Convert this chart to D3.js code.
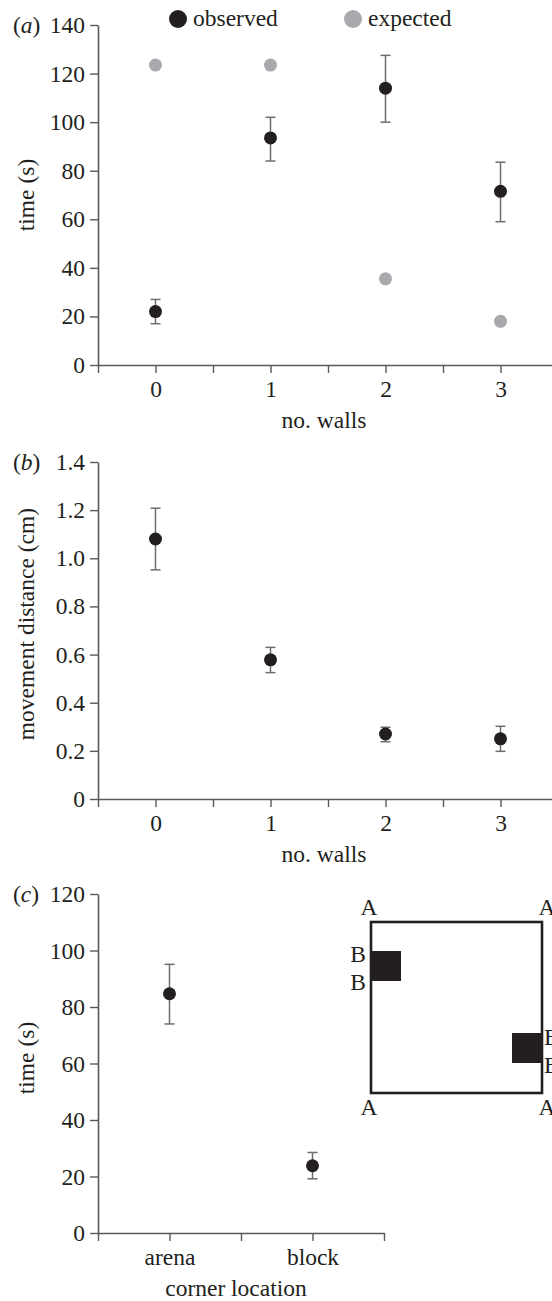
<!DOCTYPE html>
<html>
<head>
<meta charset="utf-8">
<script src="https://cdn.jsdelivr.net/npm/d3@7"></script>
<style>
  body { margin: 0; background: #fff; }
  svg text { font-family: "Liberation Serif", "DejaVu Serif", serif !important; fill: #231f20; }
</style>
</head>
<body>
<svg id="chart" width="552" height="1301" font-family="Liberation Serif"></svg>
<script>
// panel (a): time in corner vs number of walls
const walls = [0, 1, 2, 3];
const timeObserved = [22, 93.5, 114, 71.5];
const timeObsLow = [17, 84, 100, 59];
const timeObsHigh = [27, 102, 127.5, 83.5];
const timeExpected = [123.5, 123.5, 35.5, 18];

// panel (b): movement distance vs number of walls
const distObserved = [1.08, 0.578, 0.27, 0.25];
const distLow = [0.952, 0.525, 0.238, 0.198];
const distHigh = [1.208, 0.63, 0.298, 0.302];

// panel (c): time by corner location
const corners = ["arena", "block"];
const cornerTime = [84.7, 23.8];
const cornerLow = [74, 19.2];
const cornerHigh = [95.1, 28.5];

const yTicksA = [0, 20, 40, 60, 80, 100, 120, 140];
const yTicksB = [0, 0.2, 0.4, 0.6, 0.8, 1.0, 1.2, 1.4];
const yTicksC = [0, 20, 40, 60, 80, 100, 120];

const black = "#231f20", grey = "#a7a9ac", axisGrey = "#58595b", barGrey = "#6d6e71";
const fontSize = 23.5;
const serif = "'Liberation Serif', 'DejaVu Serif', serif";

const svg = d3.select("#chart");

function txt(sel) {
    return sel.style("font-family", serif).style("font-size", fontSize + "px").style("fill", black);
}

function styleAxis(g) {
    g.attr("font-family", null).attr("font-size", null);
    g.select(".domain").attr("stroke", axisGrey).attr("stroke-width", 1.6);
    g.selectAll(".tick line").attr("stroke", axisGrey).attr("stroke-width", 1.4);
    txt(g.selectAll(".tick text"));
}

function drawPanel(opts) {
    let g = svg.append("g").attr("class", "panel");
    let x = opts.x, y = opts.y;

    let yAxis = d3.axisLeft(y).tickValues(opts.yTicks).tickSize(8).tickSizeOuter(0)
        .tickPadding(5).tickFormat(opts.yFormat);
    g.append("g").attr("transform", "translate(" + x.range()[0] + ",0)").call(yAxis).call(styleAxis);

    let half = d3.range(x.domain()[0], x.domain()[1] + 0.01, 0.5);
    let xAxis = d3.axisBottom(x).tickValues(half).tickSize(8).tickSizeOuter(0)
        .tickPadding(7).tickFormat(d => Number.isInteger(d) ? opts.xLabel(d) : "");
    g.append("g").attr("transform", "translate(0," + y.range()[0] + ")").call(xAxis).call(styleAxis);

    // panel letter
    let lab = txt(g.append("text").attr("x", 13).attr("y", y(opts.yTicks[opts.yTicks.length - 1]))
        .attr("dy", "0.32em"));
    lab.append("tspan").text("(");
    lab.append("tspan").style("font-style", "italic").text(opts.letter);
    lab.append("tspan").text(")");

    // axis titles
    txt(g.append("text")
        .attr("transform", "translate(34," + opts.yTitleY + ") rotate(-90)")
        .attr("text-anchor", "middle").text(opts.yTitle));
    txt(g.append("text")
        .attr("x", opts.xTitleX).attr("y", y.range()[0] + 63)
        .attr("text-anchor", "middle").text(opts.xTitle));

    // error bars then dots
    opts.series.forEach(s => {
        let pts = s.values.map((v, i) => ({ x: s.xs[i], v: v, lo: s.low ? s.low[i] : null, hi: s.high ? s.high[i] : null }));
        if (s.low) {
            let eb = g.append("g").selectAll("g").data(pts).enter().append("g")
                .attr("stroke", barGrey).attr("stroke-width", 1.5);
            eb.append("line").attr("x1", d => x(d.x)).attr("x2", d => x(d.x))
                .attr("y1", d => y(d.lo)).attr("y2", d => y(d.hi));
            eb.append("line").attr("x1", d => x(d.x) - 5).attr("x2", d => x(d.x) + 5)
                .attr("y1", d => y(d.lo)).attr("y2", d => y(d.lo));
            eb.append("line").attr("x1", d => x(d.x) - 5).attr("x2", d => x(d.x) + 5)
                .attr("y1", d => y(d.hi)).attr("y2", d => y(d.hi));
        }
        g.append("g").selectAll("circle").data(pts).enter().append("circle")
            .attr("cx", d => x(d.x)).attr("cy", d => y(d.v))
            .attr("r", 6.5).attr("fill", s.color);
    });
    return g;
}

// (a)
let xA = d3.scaleLinear().domain([-0.5, 3.5]).range([98, 558]);
let yA = d3.scaleLinear().domain([0, 140]).range([365, 25]);
drawPanel({
    x: xA, y: yA, yTicks: yTicksA, yFormat: d3.format("d"), xLabel: d => d,
    letter: "a", yTitle: "time (s)", yTitleY: 195, xTitle: "no. walls", xTitleX: xA(1.5) - 4,
    series: [
        { xs: walls, values: timeExpected, color: grey },
        { xs: walls, values: timeObserved, low: timeObsLow, high: timeObsHigh, color: black }
    ]
});

// legend
let legend = svg.append("g").attr("class", "legend");
[["observed", black, 178], ["expected", grey, 353]].forEach(([name, col, lx]) => {
    legend.append("circle").attr("cx", lx).attr("cy", 19).attr("r", 9).attr("fill", col);
    txt(legend.append("text").attr("x", lx + 15).attr("y", 26).text(name));
});

// (b)
let yB = d3.scaleLinear().domain([0, 1.4]).range([799, 462]);
drawPanel({
    x: xA.copy(), y: yB, yTicks: yTicksB, yFormat: d => d === 0 ? "0" : d.toFixed(1), xLabel: d => d,
    letter: "b", yTitle: "movement distance (cm)", yTitleY: 624, xTitle: "no. walls", xTitleX: xA(1.5) - 4,
    series: [
        { xs: walls, values: distObserved, low: distLow, high: distHigh, color: black }
    ]
});

// (c)
let xC = d3.scaleLinear().domain([-0.5, 1.5]).range([98, 384]);
let yC = d3.scaleLinear().domain([0, 120]).range([1233, 894]);
drawPanel({
    x: xC, y: yC, yTicks: yTicksC, yFormat: d3.format("d"), xLabel: d => corners[d],
    letter: "c", yTitle: "time (s)", yTitleY: 1058, xTitle: "corner location", xTitleX: xC(0.5) - 5,
    series: [
        { xs: [0, 1], values: cornerTime, low: cornerLow, high: cornerHigh, color: black }
    ]
});

// arena schematic inset: square arena with two blocks, corners labelled A/B
let inset = svg.append("g").attr("class", "inset").attr("transform", "translate(371,922)");
let side = 171, blk = 30;
inset.append("rect").attr("width", side).attr("height", side)
    .attr("fill", "none").attr("stroke", black).attr("stroke-width", 2.6);
inset.append("rect").attr("x", 0).attr("y", 29).attr("width", blk).attr("height", blk).attr("fill", black);
inset.append("rect").attr("x", side - blk).attr("y", 111).attr("width", blk).attr("height", blk).attr("fill", black);
let cornerLabels = [
    { t: "A", x: -2, y: -7, a: "middle" }, { t: "A", x: side + 5, y: -7, a: "middle" },
    { t: "A", x: -2, y: side + 22, a: "middle" }, { t: "A", x: side + 5, y: side + 22, a: "middle" },
    { t: "B", x: -5, y: 40, a: "end" }, { t: "B", x: -5, y: 68, a: "end" },
    { t: "B", x: side + 2, y: 123, a: "start" }, { t: "B", x: side + 2, y: 151, a: "start" }
];
txt(inset.selectAll("text.lbl").data(cornerLabels).enter().append("text").attr("class", "lbl")
    .attr("x", d => d.x).attr("y", d => d.y).attr("text-anchor", d => d.a)
    .text(d => d.t));
</script>
</body>
</html>
